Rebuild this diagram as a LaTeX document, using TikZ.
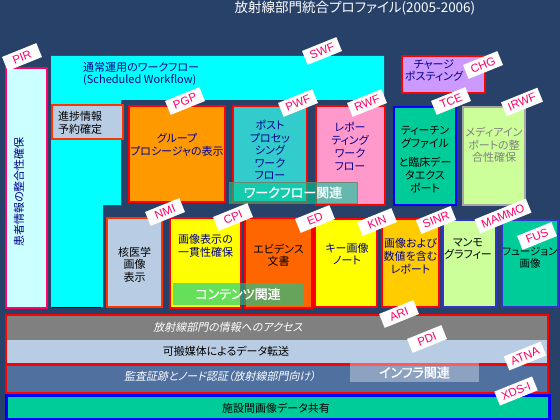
\documentclass[tikz,border=0pt]{standalone}
\usepackage{fontspec}
\usepackage{tikz}
\usepackage{xcolor}

\newfontfamily\jp[RawFeature=+palt]{Noto Sans CJK JP}
\newfontfamily\jpi[RawFeature=+palt, FakeSlant=0.2]{Noto Sans CJK JP}
\newfontfamily\jpb[RawFeature=+palt, FakeBold=1.2]{Noto Sans CJK JP}
\newfontfamily\tagf{Liberation Sans}

\definecolor{bgnavy}{RGB}{40,65,105}
\definecolor{txtnavy}{RGB}{0,0,140}
\definecolor{tagpink}{RGB}{255,0,102}
\definecolor{swfcyan}{RGB}{0,255,255}
\definecolor{ltyellow}{RGB}{255,255,0}
\definecolor{steel}{RGB}{184,204,228}
\definecolor{ltcyan}{RGB}{204,255,255}
\definecolor{redorange}{RGB}{255,51,0}
\definecolor{grporange}{RGB}{255,153,0}
\definecolor{postteal}{RGB}{51,204,204}
\definecolor{rwfpink}{RGB}{255,153,204}
\definecolor{seagreen}{RGB}{0,204,153}
\definecolor{lime}{RGB}{204,255,153}
\definecolor{lilac}{RGB}{204,153,255}
\definecolor{edorange}{RGB}{255,102,0}
\definecolor{gold}{RGB}{255,204,0}
\definecolor{mamblue}{RGB}{51,51,204}
\definecolor{audit}{RGB}{80,112,160}
\definecolor{bandgray}{RGB}{128,128,128}
\definecolor{lblgray}{RGB}{120,120,100}

\begin{document}
\begin{tikzpicture}[x=1pt, y=-1pt,
    box/.style={draw=red, line width=1.5pt, inner sep=0pt},
    txt/.style={font=\jp\fontsize{11}{12.5}\selectfont, align=center, inner sep=0pt},
    tag/.style={fill=white, text=tagpink, font=\tagf\fontsize{11.5}{11.5}\selectfont,
        rotate=22, inner xsep=5pt, inner ysep=1.5pt, minimum width=37pt, minimum height=15pt},
    grplbl/.style={fill=seagreen, fill opacity=0.6, text opacity=1, text=white,
        font=\jpb\fontsize{13}{13}\selectfont, inner sep=0pt}]
	\useasboundingbox (0,0) rectangle (560,420);
	\fill[bgnavy] (0,0) rectangle (560,420);

	\node[font=\jp\fontsize{13.5}{13.5}\selectfont, text=white] (title) at (355,8) {放射線部門統合プロファイル(2005-2006)};

	% scheduled workflow area
	\fill[swfcyan] (51,56) -- (384,56) -- (384,100) -- (121,100) -- (121,205) -- (103,205) -- (103,307) -- (51,307) -- cycle;
	\draw[black, line width=1.5pt] (52,307.5) -- (101,307.5);
	\node[txt, anchor=west, align=left, text=txtnavy, font=\jp\fontsize{11}{12}\selectfont] (swftxt) at (83,74) {通常運用のワークフロー\\(Scheduled Workflow)};

	\node[box, draw=redorange, fill=steel, minimum width=71pt, minimum height=34pt] (prog) at (87.5,122) {};
	\node[txt, anchor=west, align=left] (progtxt) at (58,123) {進捗情報\\予約確定};

	\node[box, draw=tagpink, fill=ltcyan, minimum width=41pt, minimum height=240pt] (pir) at (26.5,188) {};
	\node[txt, text=txtnavy, rotate=90] (pirtxt) at (19,192) {患者情報の整合性確保};

	% workflow boxes
	\node[box, fill=grporange, minimum width=96pt, minimum height=96pt] (grp) at (177,154) {};
	\node[txt, text=txtnavy] (grptxt) at (177,145) {グループ\\プロシージャの表示};

	\node[box, fill=postteal, minimum width=74pt, minimum height=96pt] (post) at (270,154) {};
	\node[txt, text=txtnavy] (posttxt) at (270,150) {ポスト\\プロセッ\\シング\\ワーク\\フロー};

	\node[box, fill=rwfpink, minimum width=69pt, minimum height=99pt] (rwf) at (350.5,155.5) {};
	\node[txt, text=txtnavy, font=\jp\fontsize{11}{13}\selectfont] (rwftxt) at (350,146) {レポー\\ティング\\ワーク\\フロー};

	\node[box, draw=blue, line width=2.5pt, fill=seagreen, minimum width=62pt, minimum height=98pt] (tce) at (425,156) {};
	\node[txt, font=\jp\fontsize{11}{13}\selectfont] (tcetxt) at (425,160) {ティーチン\\グファイル\\[6pt]と臨床デー\\タエクス\\ポート};

	\node[box, draw=gray!70, line width=2.5pt, fill=lime, minimum width=62pt, minimum height=98pt] (irwf) at (494,156) {};
	\node[txt, text=bandgray] (irwftxt) at (494,145) {メディアイン\\ポートの整\\合性確保};

	\node[box, fill=lilac, minimum width=83pt, minimum height=37pt] (chg) at (443.5,74.5) {};
	\node[txt, text=txtnavy, font=\jp\fontsize{11}{12}\selectfont] (chgtxt) at (434,71) {チャージ\\ポスティング};

	\node[grplbl, draw=lblgray, draw opacity=0.8, line width=1pt, minimum width=128pt, minimum height=21pt] (wflbl) at (293,192.5) {ワークフロー関連};

	% content boxes
	\node[box, draw=redorange, fill=steel, minimum width=55pt, minimum height=89pt] (nmi) at (134.5,262.5) {};
	\node[txt] (nmitxt) at (134.5,264.5) {核医学\\画像\\表示};

	\node[box, fill=ltyellow, minimum width=71pt, minimum height=90pt] (cpi) at (205.5,263) {};
	\node[txt, text=txtnavy, font=\jp\fontsize{11}{13}\selectfont] (cpitxt) at (205.5,245.5) {画像表示の\\一貫性確保};

	\node[box, fill=edorange, minimum width=67pt, minimum height=90pt] (ed) at (278.5,263) {};
	\node[txt, font=\jp\fontsize{11}{12}\selectfont] (edtxt) at (278.5,255) {エビデンス\\文書};

	\node[box, fill=ltyellow, minimum width=62pt, minimum height=88pt] (kin) at (346,263) {};
	\node[txt, text=txtnavy, font=\jp\fontsize{11}{12}\selectfont] (kintxt) at (347,254) {キー画像\\ノート};

	\node[box, fill=gold, minimum width=57pt, minimum height=88pt] (sinr) at (410.5,263) {};
	\node[txt, text=txtnavy, font=\jp\fontsize{11}{13}\selectfont] (sinrtxt) at (410.5,256) {画像および\\数値を含む\\レポート};

	\node[box, draw=mamblue, fill=lime, minimum width=53pt, minimum height=87pt] (mammo) at (469.5,263.5) {};
	\node[txt, font=\jp\fontsize{11}{12}\selectfont] (mammotxt) at (468,249) {マンモ\\グラフィー};

	\node[box, draw=mamblue, fill=seagreen, minimum width=56pt, minimum height=87pt] (fus) at (530,263.5) {};
	\node[txt, font=\jp\fontsize{10.5}{12}\selectfont] (fustxt) at (530,257.5) {フュージョン\\画像};

	\node[grplbl, minimum width=130pt, minimum height=22pt] (ctlbl) at (238,294) {コンテンツ関連};

	% infrastructure bands
	\node[fill=bandgray, inner sep=0pt, minimum width=542pt, minimum height=25pt] (acc) at (277,327.5) {};
	\node[fill=steel, inner sep=0pt, minimum width=542pt, minimum height=24pt] (port) at (277,352) {};
	\draw[red, line width=1.5pt] (acc.north west) rectangle (port.south east);
	\node[txt, text=white, font=\jpi\fontsize{11}{12}\selectfont] (acctxt) at (228,327) {放射線部門の情報へのアクセス};
	\node[txt] (porttxt) at (226,351) {可搬媒体によるデータ転送};

	\node[box, fill=audit, minimum width=542pt, minimum height=28pt] (atna) at (277,379) {};
	\node[txt, text=white, font=\jpi\fontsize{11}{12}\selectfont] (atnatxt) at (220,376) {監査証跡とノード認証（放射線部門向け）};

	\node[grplbl, fill=white, fill opacity=0.35, minimum width=129pt, minimum height=19pt] (inflbl) at (414.5,372.5) {インフラ関連};

	\node[box, draw=blue, line width=3pt, fill=seagreen, minimum width=543pt, minimum height=24pt] (xds) at (277.5,407) {};
	\node[txt] (xdstxt) at (276,408) {施設間画像データ共有};

	% profile tags
	\node[tag] (tpir) at (22,57) {PIR};
	\node[tag] (tswf) at (322,51) {SWF};
	\node[tag] (tpgp) at (185,101) {PGP};
	\node[tag] (tpwf) at (298,103) {PWF};
	\node[tag] (trwf) at (367,103) {RWF};
	\node[tag] (tchg) at (483,65) {CHG};
	\node[tag] (ttce) at (451,101) {TCE};
	\node[tag] (tirwf) at (522,102) {IRWF};
	\node[tag] (tnmi) at (165,212) {NMI};
	\node[tag] (tcpi) at (233,217) {CPI};
	\node[tag] (ted) at (315,219) {ED};
	\node[tag] (tkin) at (377,222) {KIN};
	\node[tag] (tsinr) at (436,220) {SINR};
	\node[tag] (tmammo) at (503,216) {MAMMO};
	\node[tag] (tfus) at (537,236) {FUS};
	\node[tag] (tari) at (399,314) {ARI};
	\node[tag] (tpdi) at (427,339) {PDI};
	\node[tag] (tatna) at (525,356) {ATNA};
	\node[tag] (txds) at (516,391) {XDS-I};
\end{tikzpicture}
\end{document}
